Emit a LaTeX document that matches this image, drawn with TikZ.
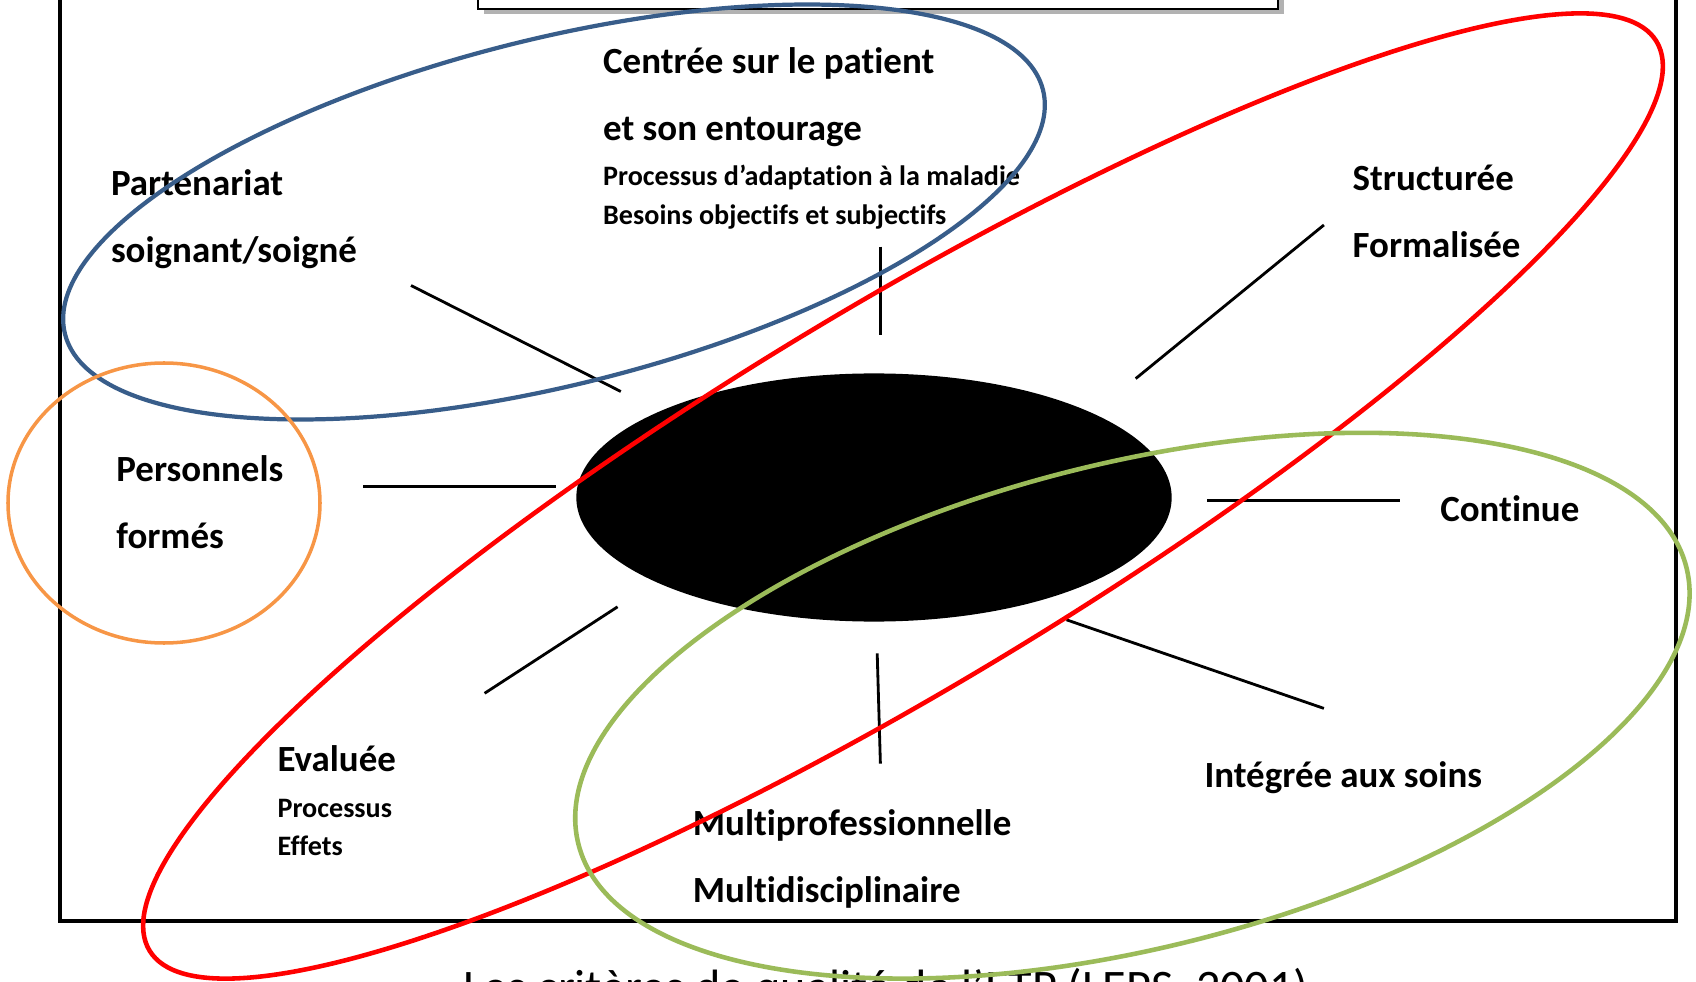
\documentclass[tikz,border=0pt]{standalone}
\usepackage{fontspec}
\setmainfont{Carlito}[Ligatures={NoCommon}]
\usetikzlibrary{shapes.geometric}

\definecolor{ovalblue}{HTML}{385D8A}
\definecolor{ovalorange}{HTML}{F79646}
\definecolor{ovalgreen}{HTML}{9BBB59}

% keep t and i apart (no ligature)
\newcommand{\tiapart}{t\kern0pt i}

\begin{document}
\begin{tikzpicture}[
    x=0.01cm,
    y=0.01cm,
    crit/.style={
        font=\bfseries\fontsize{10.5}{19}\selectfont,
        align=left,
        anchor=west,
        inner sep=0pt
    },
    critsub/.style={
        font=\bfseries\fontsize{8}{11}\selectfont,
        align=left,
        anchor=west,
        inner sep=0pt
    },
    spoke/.style={line width=0.8pt},
    core/.style={
        ellipse,
        fill=black,
        minimum width=5.95cm,
        minimum height=2.48cm,
        inner sep=0pt
    },
    oval/.style={line width=1.2pt}
]
    \useasboundingbox (0,0) rectangle (1696,-982);
    \clip (0,0) rectangle (1696,-982);

    % frame and title box
    \draw[line width=1.3pt] (60,20) rectangle (1676,-921);
    \fill[black!30] (484,20) rectangle (1284,-14);
    \draw[line width=0.6pt, fill=white] (478,20) rectangle (1278,-9);

    % spokes
    \foreach \xa/\ya/\xb/\yb in {
        411/-285.5/620.8/-391.5,
        880.4/-246.6/880.4/-335.3,
        1135.7/-378.6/1323.9/-225,
        363.4/-486.7/556/-486.7,
        1207/-500.8/1399.6/-500.8,
        484.6/-693.3/617.6/-606.8,
        877.2/-653.3/880.4/-763.6,
        1066.5/-619.8/1323.9/-708.4}
        \draw[spoke] (\xa,\ya) -- (\xb,\yb);

    % criteria
    \node[crit] (patient) at (602.5,-97.5) {Centrée sur le pa\tiapart ent\\et son entourage};
    \node[critsub] (patientsub) at (602.5,-197.2) {Processus d’adapta\tiapart on à la maladie\\Besoins objec\tiapart fs et subjec\tiapart fs};
    \node[crit] (partenariat) at (110.3,-219.5) {Partenariat\\soignant/soigné};
    \node[crit] (structuree) at (1352,-211) {Structurée\\Formalisée};
    \node[crit] (personnels) at (115.7,-501.8) {Personnels\\formés};
    \node[crit] (continue) at (1439.6,-509) {Con\tiapart nue};
    \node[crit] (evaluee) at (276.9,-759) {Evaluée};
    \node[critsub] (evalsub) at (276.9,-827.5) {Processus\\Effets};
    \node[crit] (integree) at (1203.8,-777.5) {Intégrée aux soins};
    \node[crit] (multi) at (692.2,-859) {Mul\tiapart professionnelle\\Mul\tiapart disciplinaire};

    \node[anchor=base west, inner sep=0pt, font=\fontsize{13.7}{16}\selectfont] (caption) at (463,-1003) {Les critères de qualité de l’ETP (LEPS, 2001)};

    % centre
    \node[core] (core) at (874,-497.5) {};

    % groupings
    \draw[oval, ovalblue, rotate around={14:(554,-212)}] (554,-212) ellipse [x radius=504, y radius=173];
    \draw[oval, ovalorange, line width=1pt] (164,-503) ellipse [x radius=156, y radius=140];
    \draw[oval, red, line width=1.3pt, rotate around={31.1:(903,-496)}] (903,-496) ellipse [x radius=880, y radius=189];
    \draw[oval, ovalgreen, line width=1.3pt, rotate around={14:(1132.4,-705.7)}] (1132.4,-705.7) ellipse [x radius=571, y radius=242.5];
\end{tikzpicture}
\end{document}
